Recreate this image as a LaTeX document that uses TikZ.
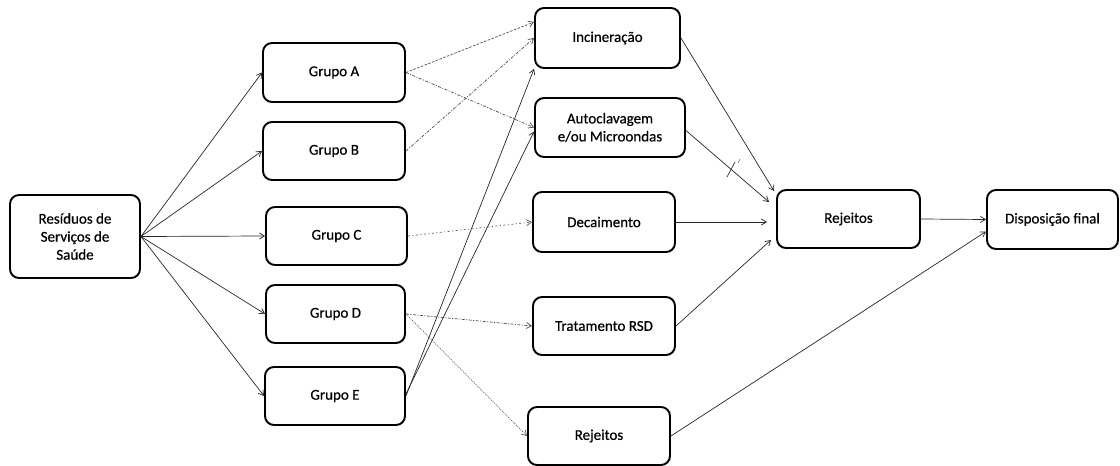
\documentclass[tikz,border=0pt]{standalone}
\usepackage{fontspec}
\setmainfont{Carlito}[FakeBold=0.5]
\usetikzlibrary{arrows.meta}
\begin{document}
\begin{tikzpicture}[x=1pt,y=-1pt,
  box/.style={draw=black, line width=1.9pt, rounded corners=9pt, align=center,
    inner sep=0pt, font=\fontsize{15}{18}\selectfont},
  arr/.style={line width=0.7pt, draw=black!85, -{Straight Barb[length=5pt,width=6pt]}},
  dashdot/.style={arr, draw=black!70, dash pattern=on 3pt off 1.5pt on 1pt off 1.5pt},
  dashs/.style={arr, draw=black!70, dash pattern=on 2.5pt off 1.5pt},
  dots/.style={arr, draw=black!65, dash pattern=on 1pt off 1.2pt},
  sparse/.style={arr, draw=black!65, dash pattern=on 2pt off 2.5pt on 1pt off 2.5pt}]
\useasboundingbox (0,0) rectangle (1120,466);
\fill[white] (0,0) rectangle (1120,466);

\node[box, minimum width=130pt, minimum height=83pt] (res) at (75,236.5) {Resíduos de\\Serviços de\\Saúde};
\node[box, minimum width=142pt, minimum height=59pt] (ga) at (334,72.5) {Grupo A};
\node[box, minimum width=142pt, minimum height=58pt] (gb) at (334,151) {Grupo B};
\node[box, minimum width=141pt, minimum height=58pt] (gc) at (336.5,236) {Grupo C};
\node[box, minimum width=139pt, minimum height=58pt] (gd) at (335.5,314) {Grupo D};
\node[box, minimum width=140pt, minimum height=58pt] (ge) at (335,396) {Grupo E};
\node[box, minimum width=145pt, minimum height=60pt] (inc) at (607.5,38) {Incineração};
\node[box, minimum width=150pt, minimum height=59pt] (aut) at (610,127.5) {Autoclavagem\\e/ou Microondas};
\node[box, minimum width=142pt, minimum height=60pt] (dec) at (604,222) {Decaimento};
\node[box, minimum width=142pt, minimum height=58pt] (trat) at (604,326) {Tratamento RSD};
\node[box, minimum width=142pt, minimum height=58pt] (rejb) at (599,436) {Rejeitos};
\node[box, minimum width=143pt, minimum height=58pt] (rejm) at (848.5,219) {Rejeitos};
\node[box, minimum width=131pt, minimum height=59pt] (disp) at (1052.5,219.5) {Disposição final};

\coordinate (decend) at (767,222);
\coordinate (tratend) at (771,240);
\coordinate (autend) at (769,202);

% from Residuos
\draw[arr] (res.east) -- (ga.west);
\draw[arr] (res.east) -- (gb.west);
\draw[arr] (res.east) -- (gc.west);
\draw[arr] (res.east) -- (gd.west);
\draw[arr] (res.east) -- (ge.west);

% from groups
\draw[dashs] (ga.east) -- ([yshift=16pt]inc.west);
\draw[dashdot] (ga.east) -- (aut.west);
\draw[dashdot] (gb.east) -- (inc.west);
\draw[sparse] (gc.east) -- (dec.west);
\draw[dashdot] (gd.east) -- (trat.west);
\draw[dots] (gd.east) -- (rejb.west);
\draw[arr] (ge.east) -- (inc.south west);
\draw[arr] ([yshift=2pt]ge.east) -- ([yshift=-4pt]aut.west);

% to Rejeitos
\draw[arr] (inc.east) -- ([xshift=-2pt,yshift=-2pt]rejm.north west);
\draw[arr] ([yshift=-3pt]aut.east) -- (autend);
\draw[arr] (dec.east) -- (decend);
\draw[arr] (trat.east) -- (tratend);
\draw[arr] (rejm.east) -- (disp.west);
\draw[arr] (rejb.east) -- ([yshift=-12pt]disp.west);

% small tick mark on the Autoclavagem connector
\draw[line width=0.7pt, black!80] (727,177) -- (735,162);
\draw[line width=0.5pt, black!60] (738,163) -- (740,159);
\end{tikzpicture}
\end{document}
